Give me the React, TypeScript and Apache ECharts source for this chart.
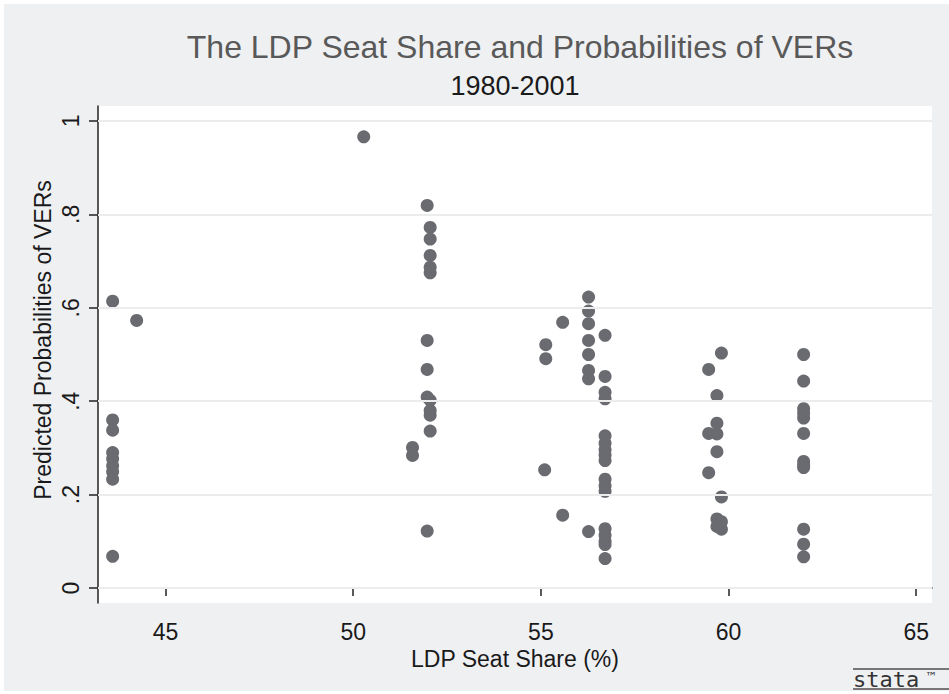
import React, { useEffect, useRef } from "react";
import * as echarts from "echarts";

// LDP seat share (%) for each predicted probability point
const seatShare: number[] = [
  43.59, 43.59, 43.59, 43.59, 43.59, 43.59, 43.59, 43.59, 43.59,
  44.23,
  50.28,
  51.58, 51.58,
  51.97, 52.05, 52.05, 52.05, 52.05, 52.05, 51.97, 51.97, 51.97, 52.05, 52.05, 52.05, 52.05, 51.97,
  55.1, 55.13, 55.13,
  55.58, 55.58,
  56.27, 56.27, 56.27, 56.27, 56.27, 56.27, 56.27, 56.27,
  56.71, 56.71, 56.71, 56.71, 56.71, 56.71, 56.71, 56.71, 56.71, 56.71, 56.71, 56.71, 56.71, 56.71, 56.71, 56.71, 56.71,
  59.47, 59.47, 59.47,
  59.69, 59.69, 59.69, 59.69, 59.69, 59.69,
  59.81, 59.81, 59.81, 59.81,
  62.0, 62.0, 62.0, 62.0, 62.0, 62.0, 62.0, 62.0, 62.0, 62.0, 62.0, 62.0,
];

// Predicted probabilities of VERs
const probability: number[] = [
  0.614, 0.36, 0.338, 0.29, 0.277, 0.262, 0.249, 0.233, 0.068,
  0.573,
  0.966,
  0.301, 0.284,
  0.819, 0.772, 0.747, 0.712, 0.687, 0.675, 0.53, 0.468, 0.409, 0.402, 0.38, 0.37, 0.336, 0.122,
  0.253, 0.521, 0.491,
  0.569, 0.156,
  0.623, 0.593, 0.566, 0.53, 0.5, 0.466, 0.448, 0.121,
  0.541, 0.453, 0.419, 0.405, 0.326, 0.31, 0.296, 0.285, 0.273, 0.233, 0.219, 0.207, 0.127, 0.113, 0.1, 0.093, 0.063,
  0.468, 0.331, 0.247,
  0.412, 0.353, 0.33, 0.292, 0.148, 0.132,
  0.503, 0.195, 0.142, 0.126,
  0.5, 0.443, 0.384, 0.374, 0.364, 0.331, 0.271, 0.263, 0.258, 0.126, 0.094, 0.067,
];

const xTicks: number[] = [45, 50, 55, 60, 65];
const yTicks: number[] = [0, 0.2, 0.4, 0.6, 0.8, 1];
const yTickLabels: string[] = ["0", ".2", ".4", ".6", ".8", "1"];

const titleText = "The LDP Seat Share and Probabilities of VERs";
const subtitleText = "1980-2001";
const xTitle = "LDP Seat Share (%)";
const yTitle = "Predicted Probabilities of VERs";

const FONT = "'Liberation Sans', Arial, sans-serif";

export default function App() {
  const ref = useRef<HTMLDivElement>(null);

  useEffect(() => {
    if (!ref.current) return;
    const chart = echarts.init(ref.current, null, { renderer: "svg" });
    const points = seatShare.map((x, i) => [x, probability[i]]);
    const axisColor = "#222222";

    chart.setOption({
      animation: false,
      backgroundColor: "#EFF0F2",
      textStyle: { fontFamily: FONT },
      grid: {
        left: 98,
        right: 17,
        top: 106,
        bottom: 91,
        containLabel: false,
        show: true,
        backgroundColor: "#ffffff",
        borderWidth: 0,
      },
      xAxis: {
        type: "value",
        min: 43.2,
        max: 65.42,
        axisLine: { show: true, lineStyle: { color: axisColor, width: 1.5 } },
        axisTick: {
          show: true,
          customValues: xTicks,
          length: 8,
          lineStyle: { color: axisColor, width: 1.5 },
        },
        axisLabel: {
          customValues: xTicks,
          color: "#1a1a1a",
          fontSize: 23,
          fontFamily: FONT,
          margin: 17,
        },
        splitLine: { show: false },
        name: xTitle,
        nameLocation: "middle",
        nameGap: 38,
        nameTextStyle: { color: "#1a1a1a", fontSize: 23, fontFamily: FONT },
      },
      yAxis: {
        type: "value",
        min: -0.032,
        max: 1.032,
        axisLine: { show: true, lineStyle: { color: axisColor, width: 1.5 } },
        axisTick: {
          show: true,
          customValues: yTicks,
          length: 9,
          lineStyle: { color: axisColor, width: 1.5 },
        },
        axisLabel: {
          customValues: yTicks,
          rotate: 90,
          color: "#1a1a1a",
          fontSize: 23,
          fontFamily: FONT,
          margin: 16,
          formatter: (v: number) => {
            const idx = yTicks.findIndex((t) => Math.abs(t - v) < 1e-6);
            return idx >= 0 ? yTickLabels[idx] : "";
          },
        },
        splitLine: { show: false },
      },
      series: [
        {
          type: "scatter",
          data: [],
          z: 1,
          silent: true,
          markLine: {
            silent: true,
            symbol: "none",
            label: { show: false },
            lineStyle: { color: "#ececec", width: 2, type: "solid" },
            data: yTicks.map((t) => ({ yAxis: t })),
          },
        },
        {
          type: "scatter",
          z: 3,
          data: points,
          symbol: "circle",
          symbolSize: 13,
          itemStyle: { color: "#6a6b70", opacity: 1 },
        },
      ],
      graphic: [
        {
          type: "text",
          x: 520,
          y: 47,
          style: {
            text: titleText,
            fill: "#595959",
            font: `32px ${FONT}`,
            textAlign: "center",
            textVerticalAlign: "middle",
          },
        },
        {
          type: "text",
          x: 515,
          y: 86,
          style: {
            text: subtitleText,
            fill: "#1a1a1a",
            font: `27px ${FONT}`,
            textAlign: "center",
            textVerticalAlign: "middle",
          },
        },
        {
          type: "text",
          x: 43,
          y: 340,
          rotation: Math.PI / 2,
          style: {
            text: yTitle,
            fill: "#1a1a1a",
            font: `23px ${FONT}`,
            textAlign: "center",
            textVerticalAlign: "middle",
          },
        },
        {
          type: "line",
          shape: { x1: 853, y1: 669, x2: 949, y2: 669 },
          style: { stroke: "#777777", lineWidth: 2 },
        },
        {
          type: "line",
          shape: { x1: 853, y1: 689, x2: 949, y2: 689 },
          style: { stroke: "#777777", lineWidth: 2 },
        },
        {
          type: "text",
          x: 853,
          y: 679,
          style: {
            text: "stata",
            fill: "#333333",
            font: "22px 'DejaVu Sans Mono', monospace",
            textAlign: "left",
            textVerticalAlign: "middle",
          },
        },
        {
          type: "text",
          x: 925,
          y: 677,
          style: {
            text: "™",
            fill: "#333333",
            font: "12px 'DejaVu Sans', sans-serif",
            textAlign: "left",
            textVerticalAlign: "middle",
          },
        },
        { type: "rect", shape: { x: 0, y: 0, width: 949, height: 4 }, style: { fill: "#ffffff" } },
        { type: "rect", shape: { x: 0, y: 0, width: 4, height: 694 }, style: { fill: "#ffffff" } },
        { type: "rect", shape: { x: 0, y: 691, width: 949, height: 3 }, style: { fill: "#ffffff" } },
      ],
    });

    return () => chart.dispose();
  }, []);

  return (
    <div
      ref={ref}
      style={{ position: "fixed", left: 0, top: 0, width: 949, height: 694 }}
    />
  );
}
